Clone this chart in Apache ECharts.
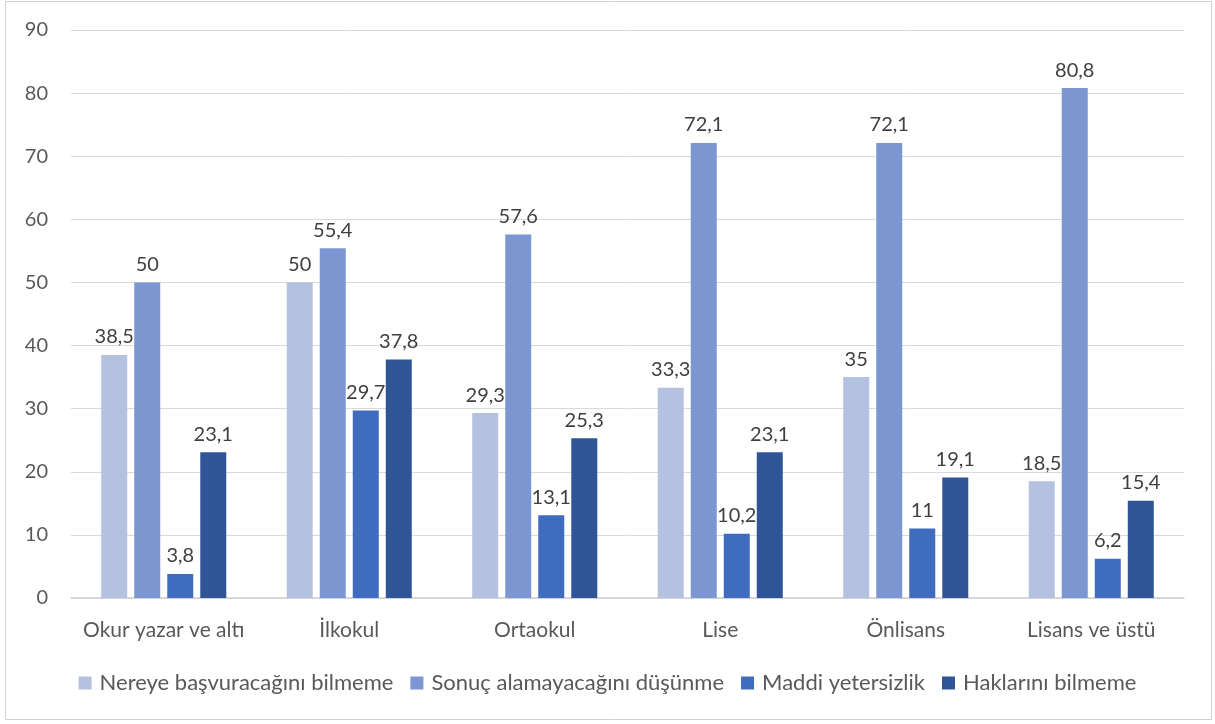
<!DOCTYPE html>
<html><head><meta charset="utf-8">
<script src="https://cdn.jsdelivr.net/npm/echarts@6/dist/echarts.min.js"></script>
<style>html,body{margin:0;padding:0;background:#fff}#c{width:1215px;height:724px}</style>
</head><body><div id="c"></div>
<script>
const categories = ['Okur yazar ve altı','İlkokul','Ortaokul','Lise','Önlisans','Lisans ve üstü'];
const seriesNames = ['Nereye başvuracağını bilmeme','Sonuç alamayacağını düşünme','Maddi yetersizlik','Haklarını bilmeme'];
const nereye = [38.5, 50, 29.3, 33.3, 35, 18.5];
const sonuc = [50, 55.4, 57.6, 72.1, 72.1, 80.8];
const maddi = [3.8, 29.7, 13.1, 10.2, 11, 6.2];
const haklar = [23.1, 37.8, 25.3, 23.1, 19.1, 15.4];
const yTicks = [0,10,20,30,40,50,60,70,80,90];
const colors = ['#b4c1e1','#7b96d1','#3f6cbf','#2f5597'];
const font = 'Lato, "Open Sans", sans-serif';
const data = [nereye, sonuc, maddi, haklar];
const chart = echarts.init(document.getElementById('c'));
chart.setOption({
  animation:false,
  textStyle:{fontFamily:font},
  graphic:[{type:'rect',shape:{x:5.5,y:1.5,width:1206,height:718},style:{fill:'none',stroke:'#d0d0d0',lineWidth:1}}],
  grid:{left:71,right:31,top:30,bottom:126},
  legend:{top:667,left:'center',itemWidth:13,itemHeight:13,itemGap:17,icon:'rect',
    textStyle:{fontFamily:font,fontSize:22,color:'#595959',padding:[0,0,0,3]},data:seriesNames},
  xAxis:{type:'category',data:categories,axisTick:{show:false},
    axisLine:{lineStyle:{color:'#d0d0d0',width:1.5}},
    axisLabel:{interval:0,fontFamily:font,fontSize:21,color:'#595959',margin:22}},
  yAxis:{type:'value',min:0,max:yTicks[yTicks.length-1],interval:10,
    axisLine:{show:false},axisTick:{show:false},
    splitLine:{lineStyle:{color:'#d9d9d9',width:1}},
    axisLabel:{fontFamily:font,fontSize:20,color:'#595959',margin:23}},
  series:seriesNames.map((n,i)=>({
    name:n,type:'bar',data:data[i],barWidth:26,barGap:'27%',
    itemStyle:{color:colors[i]},
    label:{show:true,position:'top',distance:8,fontFamily:font,fontSize:20,color:'#404040',
      formatter:p=>String(p.value).replace('.',',')}
  }))
});
</script></body></html>
